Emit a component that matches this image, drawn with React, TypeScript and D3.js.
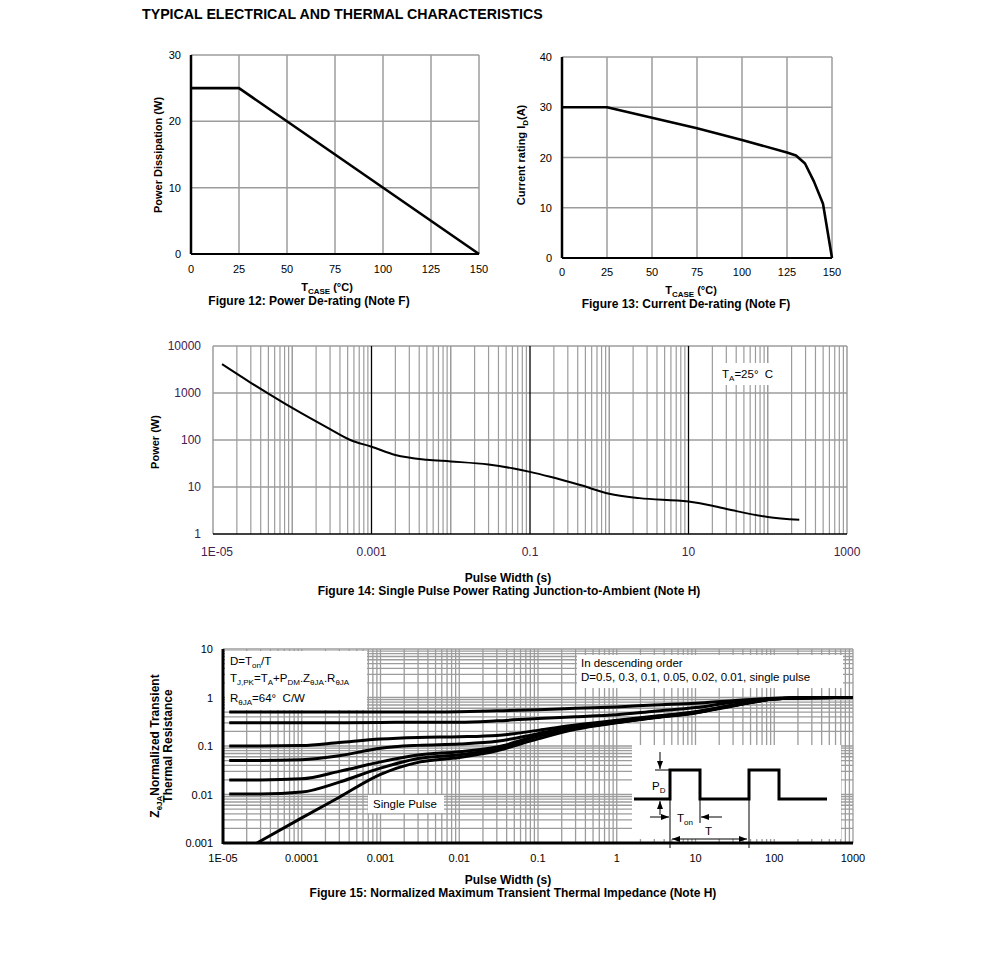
import React from 'react';
import * as d3 from 'd3';

// Typical electrical & thermal characteristics page (figs 12-15)

const FONT = "'Liberation Sans', Arial, Helvetica, sans-serif";
const GRID = '#9c9c9c';
const TICK_PURPLE = '#402050';
const SP = '\u00a0';

// Figure 12: power de-rating
const fig12Temp = [0, 25, 150];
const fig12Power = [25, 25, 0];
const fig12XTicks = [0, 25, 50, 75, 100, 125, 150];
const fig12YTicks = [0, 10, 20, 30];

// Figure 13: current de-rating
const fig13Temp = [0, 25, 50, 75, 100, 125, 130, 135, 140, 145, 150];
const fig13Current = [30, 30, 27.9, 25.8, 23.5, 21.0, 20.4, 18.8, 15.2, 10.8, 0];
const fig13XTicks = [0, 25, 50, 75, 100, 125, 150];
const fig13YTicks = [0, 10, 20, 30, 40];

// Figure 14: single pulse power rating
const fig14Pulse = [1.3e-5, 3e-5, 5e-5, 1e-4, 3e-4, 5.4e-4, 1e-3, 2e-3, 5e-3, 0.01, 0.03, 0.06, 0.1, 0.18, 0.43, 1, 2.4, 10, 20, 36, 100, 250];
const fig14Power = [4100, 1650, 970, 480, 170, 100, 72, 48, 38, 35, 30, 25, 21, 16.5, 11, 7.2, 5.8, 4.9, 4.0, 3.2, 2.3, 2.0];
const fig14XTickValues = [1e-5, 1e-3, 0.1, 10, 1000];
const fig14XTickLabels = ['1E-05', '0.001', '0.1', '10', '1000'];
const fig14YTickValues = [1, 10, 100, 1000, 10000];
const fig14YTickLabels = ['1', '10', '100', '1000', '10000'];

// Figure 15: normalized transient thermal impedance
const fig15Pulse = [1.2e-5, 3e-5, 1e-4, 3e-4, 1e-3, 3e-3, 1e-2, 3e-2, 0.1, 0.3, 1, 3, 10, 30, 100, 300, 1000];
const fig15D05 = [0.5, 0.5, 0.5, 0.5, 0.5, 0.5, 0.51, 0.53, 0.56, 0.6, 0.64, 0.7, 0.76, 0.86, 0.96, 1.0, 1.0];
const fig15D03 = [0.3, 0.3, 0.3, 0.3, 0.305, 0.31, 0.31, 0.33, 0.37, 0.4, 0.44, 0.52, 0.62, 0.8, 0.95, 1.0, 1.0];
const fig15D01 = [0.1, 0.1, 0.102, 0.118, 0.139, 0.15, 0.155, 0.165, 0.21, 0.27, 0.34, 0.41, 0.51, 0.7, 0.94, 0.99, 1.0];
const fig15D005 = [0.05, 0.05, 0.052, 0.063, 0.09, 0.103, 0.11, 0.125, 0.18, 0.25, 0.32, 0.4, 0.5, 0.69, 0.94, 0.99, 1.0];
const fig15D002 = [0.02, 0.02, 0.021, 0.03, 0.047, 0.065, 0.076, 0.095, 0.165, 0.24, 0.31, 0.39, 0.49, 0.68, 0.93, 0.99, 1.0];
const fig15D001 = [0.0102, 0.0102, 0.0112, 0.018, 0.035, 0.055, 0.066, 0.088, 0.158, 0.235, 0.305, 0.385, 0.485, 0.68, 0.93, 0.99, 1.0];
const fig15SinglePulseX = [2.7e-5, 1e-4, 3e-4, 1e-3, 3e-3, 1e-2, 3e-2, 0.1, 0.3, 1, 3, 10, 30, 100, 300, 1000];
const fig15SinglePulse = [0.001, 0.0033, 0.0088, 0.026, 0.046, 0.058, 0.08, 0.14, 0.22, 0.3, 0.38, 0.48, 0.67, 0.93, 0.99, 1.0];
const fig15XTickValues = [1e-5, 1e-4, 1e-3, 1e-2, 0.1, 1, 10, 100, 1000];
const fig15XTickLabels = ['1E-05', '0.0001', '0.001', '0.01', '0.1', '1', '10', '100', '1000'];
const fig15YTickValues = [0.001, 0.01, 0.1, 1, 10];
const fig15YTickLabels = ['0.001', '0.01', '0.1', '1', '10'];

// log grid values m x 10^k between two exponents
const logGrid = (lo: number, hi: number, from = 1) => {
  const out: number[] = [];
  for (let k = lo; k < hi; k++) {
    for (let m = from; m <= 9; m++) out.push(m * Math.pow(10, k));
  }
  return out;
};

function LinearPanel(props: any) {
  const { left, right, top, bottom, xDomain, yDomain, xTicks, yTicks, xs, ys, labelDy } = props;
  const x = d3.scaleLinear().domain(xDomain).range([left, right]);
  const y = d3.scaleLinear().domain(yDomain).range([bottom, top]);
  const line = d3.line<number>().x((_, i) => x(xs[i])).y((d) => y(d));
  return (
    <g>
      {xTicks.slice(1).map((t: number) => (
        <line key={'v' + t} x1={x(t)} x2={x(t)} y1={top} y2={bottom} stroke={GRID} strokeWidth={1.5} />
      ))}
      {yTicks.slice(1).map((t: number) => (
        <line key={'h' + t} x1={left} x2={right} y1={y(t)} y2={y(t)} stroke={GRID} strokeWidth={1.5} />
      ))}
      <line x1={left} x2={left} y1={top} y2={bottom} stroke="#000" strokeWidth={2.5} />
      <line x1={left} x2={right} y1={bottom} y2={bottom} stroke="#000" strokeWidth={2} />
      <path d={line(ys) || ''} fill="none" stroke="#000" strokeWidth={2.6} strokeLinejoin="round" />
      {xTicks.map((t: number) => (
        <text key={'xl' + t} x={x(t)} y={bottom + labelDy} textAnchor="middle" fontSize={11}>{t}</text>
      ))}
      {yTicks.map((t: number) => (
        <text key={'yl' + t} x={left - 10} y={y(t) + 4} textAnchor="end" fontSize={11}>{t}</text>
      ))}
    </g>
  );
}

function Fig14() {
  const left = 213, right = 847, top = 346, bottom = 534;
  const x = d3.scaleLog().domain([1e-5, 1000]).range([left, right]);
  const y = d3.scaleLog().domain([1, 10000]).range([bottom, top]);
  const line = d3.line<number>().x((_, i) => x(fig14Pulse[i])).y((d) => y(d)).curve(d3.curveMonotoneX);
  const minors = logGrid(-5, 3, 2);
  const majors = logGrid(-5, 3, 1).filter((v, i) => i % 9 === 0).concat([1000]);
  const darkMajor = [1e-3, 0.1, 10];
  return (
    <g>
      {minors.map((v) => (
        <line key={'m' + v} x1={x(v)} x2={x(v)} y1={top} y2={bottom} stroke={GRID} strokeWidth={1.2} />
      ))}
      {[10, 100, 1000, 10000].map((v) => (
        <line key={'h' + v} x1={left} x2={right} y1={y(v)} y2={y(v)} stroke={GRID} strokeWidth={1.5} />
      ))}
      {majors.map((v) => {
        const dark = darkMajor.some((d) => Math.abs(d - v) / d < 1e-6);
        return (
          <line key={'M' + v} x1={x(v)} x2={x(v)} y1={top} y2={bottom} stroke={dark ? '#000' : GRID} strokeWidth={dark ? 1.3 : 1.5} />
        );
      })}
      <line x1={left} x2={right} y1={bottom} y2={bottom} stroke="#000" strokeWidth={1.5} />
      <path d={line(fig14Power) || ''} fill="none" stroke="#000" strokeWidth={2} />
      <rect x={717} y={363} width={60} height={22} fill="#fff" />
      <text x={722} y={378} fontSize={11.5}>
        T<tspan dy={3} fontSize={8}>A</tspan><tspan dy={-3}>{'=25°' + SP + SP + 'C'}</tspan>
      </text>
      {fig14XTickValues.map((v, i) => (
        <text key={'xl' + i} x={x(v) + (i === 0 ? 4 : 0)} y={556} textAnchor="middle" fontSize={12} fill={TICK_PURPLE}>
          {fig14XTickLabels[i]}
        </text>
      ))}
      {fig14YTickValues.map((v, i) => (
        <text key={'yl' + i} x={left - 12} y={y(v) + 4} textAnchor="end" fontSize={12} fill={TICK_PURPLE}>
          {fig14YTickLabels[i]}
        </text>
      ))}
      <text transform="translate(159,442) rotate(-90)" textAnchor="middle" fontSize={11} fontWeight="bold">Power (W)</text>
      <text x={508} y={582} textAnchor="middle" fontSize={12} fontWeight="bold">Pulse Width (s)</text>
      <text x={509} y={595} textAnchor="middle" fontSize={12} fontWeight="bold">
        Figure 14: Single Pulse Power Rating Junction-to-Ambient (Note H)
      </text>
    </g>
  );
}

function Fig15() {
  const left = 223, right = 853, top = 649, bottom = 843;
  const x = d3.scaleLog().domain([1e-5, 1000]).range([left, right]);
  const y = d3.scaleLog().domain([0.001, 10]).range([bottom, top]);
  const curve = (xs: number[]) =>
    d3.line<number>().x((_, i) => x(xs[i])).y((d) => y(d)).curve(d3.curveMonotoneX);
  const series = [fig15D05, fig15D03, fig15D01, fig15D005, fig15D002, fig15D001];
  const xGrid = logGrid(-5, 3).concat([1000]);
  const yGrid = logGrid(-3, 1).concat([10]);

  // inset pulse schematic, local offsets from its origin
  const ox = 634, oy = 770;
  const wave: [number, number][] = [[0, 29], [36, 29], [36, 0], [66, 0], [66, 29], [115, 29], [115, 0], [145, 0], [145, 29], [193, 29]];
  const waveLine = d3.line().x((d) => ox + d[0]).y((d) => oy + d[1]);

  return (
    <g>
      {xGrid.map((v, i) => (
        <line key={'gx' + i} x1={x(v)} x2={x(v)} y1={top} y2={bottom} stroke={GRID} strokeWidth={1.3} />
      ))}
      {yGrid.map((v, i) => (
        <line key={'gy' + i} x1={left} x2={right} y1={y(v)} y2={y(v)} stroke={GRID} strokeWidth={1.3} />
      ))}
      {/* annotation boxes */}
      <rect x={225} y={651} width={142} height={59} fill="#fff" />
      <rect x={577} y={655} width={266} height={33} fill="#fff" />
      <rect x={632} y={745} width={209} height={94} fill="#fff" />
      <rect x={368} y={795} width={76} height={18} fill="#fff" />

      {series.map((s, i) => (
        <path key={'s' + i} d={curve(fig15Pulse)(s) || ''} fill="none" stroke="#000" strokeWidth={3} />
      ))}
      <path d={curve(fig15SinglePulseX)(fig15SinglePulse) || ''} fill="none" stroke="#000" strokeWidth={3} />

      <line x1={left} x2={left} y1={top} y2={bottom + 1} stroke="#000" strokeWidth={3} />
      <line x1={left} x2={right} y1={bottom} y2={bottom} stroke="#000" strokeWidth={3} />

      <text x={230} y={665} fontSize={11.5}>
        D=T<tspan dy={3} fontSize={8}>on</tspan><tspan dy={-3}>/T</tspan>
      </text>
      <text x={230} y={682} fontSize={11.5}>
        T<tspan dy={3} fontSize={8}>J,PK</tspan><tspan dy={-3}>=T</tspan>
        <tspan dy={3} fontSize={8}>A</tspan><tspan dy={-3}>+P</tspan>
        <tspan dy={3} fontSize={8}>DM</tspan><tspan dy={-3}>.Z</tspan>
        <tspan dy={3} fontSize={8}>θJA</tspan><tspan dy={-3}>.R</tspan>
        <tspan dy={3} fontSize={8}>θJA</tspan>
      </text>
      <text x={230} y={702} fontSize={11.5}>
        R<tspan dy={3} fontSize={8}>θJA</tspan><tspan dy={-3}>{'=64°' + SP + SP + 'C/W'}</tspan>
      </text>
      <text x={581} y={667} fontSize={11.5}>In descending order</text>
      <text x={581} y={681} fontSize={11.5}>D=0.5, 0.3, 0.1, 0.05, 0.02, 0.01, single pulse</text>
      <text x={373} y={808} fontSize={11.5}>Single Pulse</text>

      {/* pulse schematic */}
      <path d={waveLine(wave) || ''} fill="none" stroke="#000" strokeWidth={3} />
      <g stroke="#000" strokeWidth={1} fill="none">
        <line x1={ox + 21} x2={ox + 36} y1={oy} y2={oy} />
        <line x1={ox + 26} x2={ox + 26} y1={oy - 18} y2={oy - 1} markerEnd="url(#arr)" />
        <line x1={ox + 26} x2={ox + 26} y1={oy + 45} y2={oy + 31} markerEnd="url(#arr)" />
        <line x1={ox + 36} x2={ox + 36} y1={oy + 30} y2={oy + 78} />
        <line x1={ox + 66} x2={ox + 66} y1={oy + 30} y2={oy + 53} />
        <line x1={ox + 115} x2={ox + 115} y1={oy + 30} y2={oy + 78} />
        <line x1={ox + 16} x2={ox + 35} y1={oy + 47} y2={oy + 47} markerEnd="url(#arr)" />
        <line x1={ox + 88} x2={ox + 67} y1={oy + 47} y2={oy + 47} markerEnd="url(#arr)" />
        <line x1={ox + 38} x2={ox + 113} y1={oy + 69} y2={oy + 69} markerStart="url(#arrs)" markerEnd="url(#arr)" />
      </g>
      <text x={ox + 18} y={oy + 20} fontSize={11.5}>
        P<tspan dy={3} fontSize={8}>D</tspan>
      </text>
      <text x={ox + 43} y={oy + 52} fontSize={11.5}>
        T<tspan dy={3} fontSize={8}>on</tspan>
      </text>
      <text x={ox + 71} y={oy + 65} fontSize={11.5}>T</text>

      {fig15XTickValues.map((v, i) => (
        <text key={'xl' + i} x={x(v)} y={862} textAnchor="middle" fontSize={11}>{fig15XTickLabels[i]}</text>
      ))}
      {fig15YTickValues.map((v, i) => (
        <text key={'yl' + i} x={left - 10} y={y(v) + 4} textAnchor="end" fontSize={11}>{fig15YTickLabels[i]}</text>
      ))}
      <text transform="translate(159,746) rotate(-90)" textAnchor="middle" fontSize={12} fontWeight="bold">
        Z<tspan dy={3} fontSize={8}>θJA</tspan><tspan dy={-3}>Normalized Transient</tspan>
      </text>
      <text transform="translate(172,746) rotate(-90)" textAnchor="middle" fontSize={12} fontWeight="bold">
        Thermal Resistance
      </text>
      <text x={508} y={884} textAnchor="middle" fontSize={12} fontWeight="bold">Pulse Width (s)</text>
      <text x={513} y={897} textAnchor="middle" fontSize={12} fontWeight="bold">
        Figure 15: Normalized Maximum Transient Thermal Impedance (Note H)
      </text>
    </g>
  );
}

export default function App() {
  return (
    <svg
      width={991}
      height={962}
      viewBox="0 0 991 962"
      style={{ position: 'absolute', left: 0, top: 0, background: '#fff' }}
      fontFamily={FONT}
    >
      <defs>
        <marker id="arr" viewBox="0 0 8 6" refX={8} refY={3} markerWidth={8} markerHeight={6} markerUnits="userSpaceOnUse" orient="auto">
          <path d="M0,0 L8,3 L0,6 z" fill="#000" />
        </marker>
        <marker id="arrs" viewBox="0 0 8 6" refX={0} refY={3} markerWidth={8} markerHeight={6} markerUnits="userSpaceOnUse" orient="auto">
          <path d="M8,0 L0,3 L8,6 z" fill="#000" />
        </marker>
      </defs>
      <rect width={991} height={962} fill="#fff" />
      <text x={142} y={19} fontSize={14.2} fontWeight="bold">TYPICAL ELECTRICAL AND THERMAL CHARACTERISTICS</text>

      {/* Figure 12 */}
      <LinearPanel
        left={191} right={479} top={55} bottom={254}
        xDomain={[0, 150]} yDomain={[0, 30]}
        xTicks={fig12XTicks} yTicks={fig12YTicks}
        xs={fig12Temp} ys={fig12Power} labelDy={19}
      />
      <text transform="translate(162,155) rotate(-90)" textAnchor="middle" fontSize={11} fontWeight="bold">Power Dissipation (W)</text>
      <text x={327} y={291} textAnchor="middle" fontSize={11} fontWeight="bold">
        T<tspan dy={2.5} fontSize={8}>CASE</tspan><tspan dy={-2.5}> (°C)</tspan>
      </text>
      <text x={309} y={305} textAnchor="middle" fontSize={12} fontWeight="bold">Figure 12: Power De-rating (Note F)</text>

      {/* Figure 13 */}
      <LinearPanel
        left={562} right={832} top={57} bottom={258}
        xDomain={[0, 150]} yDomain={[0, 40]}
        xTicks={fig13XTicks} yTicks={fig13YTicks}
        xs={fig13Temp} ys={fig13Current} labelDy={18}
      />
      <text transform="translate(525,155) rotate(-90)" textAnchor="middle" fontSize={11} fontWeight="bold">
        Current rating I<tspan dy={3} fontSize={8}>D</tspan><tspan dy={-3}>(A)</tspan>
      </text>
      <text x={691} y={294} textAnchor="middle" fontSize={11} fontWeight="bold">
        T<tspan dy={2.5} fontSize={8}>CASE</tspan><tspan dy={-2.5}> (°C)</tspan>
      </text>
      <text x={686} y={308} textAnchor="middle" fontSize={12} fontWeight="bold">Figure 13: Current De-rating (Note F)</text>

      <Fig14 />
      <Fig15 />
    </svg>
  );
}
